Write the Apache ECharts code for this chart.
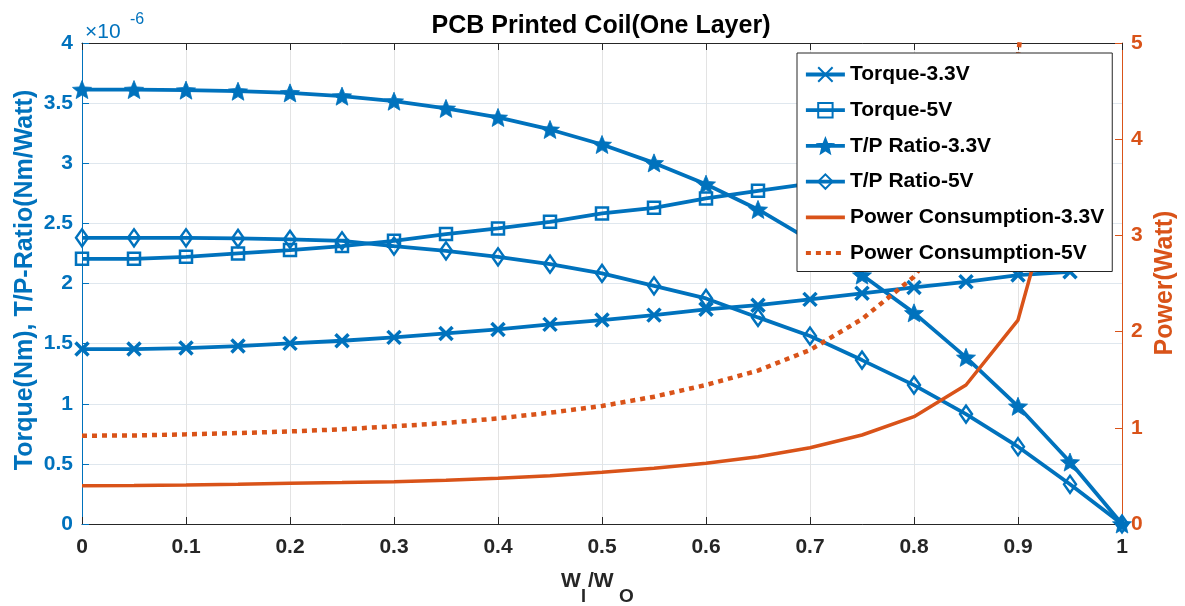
<!DOCTYPE html>
<html>
<head>
<meta charset="utf-8">
<script src="https://cdn.jsdelivr.net/npm/echarts@6/dist/echarts.min.js"></script>
<style>
html,body{margin:0;padding:0;background:#fff;}
#chart{width:1185px;height:606px;}
</style>
</head>
<body>
<div id="chart"></div>
<script>
// ---- data (x = Wi/Wo) ----
const ratioX = [0,0.05,0.1,0.15,0.2,0.25,0.3,0.35,0.4,0.45,0.5,0.55,0.6,0.65,0.7,0.75,0.8,0.85,0.9,0.95,1];
// torque in 1e-6 Nm, T/P ratio in 1e-6 Nm/W
const torque33 = [1.455,1.455,1.463,1.480,1.502,1.524,1.552,1.585,1.618,1.660,1.696,1.737,1.785,1.820,1.868,1.918,1.967,2.014,2.070,2.097,null];
const torque5  = [2.205,2.205,2.222,2.250,2.278,2.311,2.355,2.411,2.458,2.513,2.583,2.629,2.707,2.771,2.830,2.900,2.980,3.040,3.110,3.160,null];
const tpRatio33 = [3.613,3.613,3.608,3.599,3.585,3.558,3.516,3.456,3.381,3.281,3.156,3.003,2.826,2.616,2.360,2.070,1.756,1.386,0.979,0.515,0];
const tpRatio5  = [2.380,2.380,2.380,2.375,2.367,2.355,2.311,2.272,2.222,2.161,2.084,1.981,1.876,1.718,1.563,1.363,1.155,0.914,0.643,0.330,0];
// power in Watt
const power33 = [0.398,0.399,0.405,0.413,0.423,0.431,0.440,0.455,0.475,0.502,0.537,0.579,0.631,0.700,0.793,0.925,1.116,1.445,2.120,4.070,null];
const power5  = [0.918,0.920,0.932,0.945,0.962,0.985,1.015,1.050,1.098,1.157,1.227,1.323,1.445,1.595,1.809,2.130,2.570,3.320,4.870,9.300,null];
const seriesNames = ['Torque-3.3V','Torque-5V','T/P Ratio-3.3V','T/P Ratio-5V','Power Consumption-3.3V','Power Consumption-5V'];
const xTicks = [0,0.1,0.2,0.3,0.4,0.5,0.6,0.7,0.8,0.9,1];
const leftTicks = [0,0.5,1,1.5,2,2.5,3,3.5,4];
const rightTicks = [0,1,2,3,4,5];

const BLUE = '#0072BD', ORANGE = '#D95319', DARK = '#262626';
const FONT = '"Liberation Sans", Arial, sans-serif';

function pairs(ys){ return ratioX.map((x,i)=>[x, ys[i]]); }
function starPath(R, r){
  let d = '';
  for (let i=0;i<10;i++){
    const a = -Math.PI/2 + i*Math.PI/5;
    const rad = (i%2===0)?R:r;
    const x = (R + rad*Math.cos(a)).toFixed(2), y = (R + rad*Math.sin(a)).toFixed(2);
    d += (i===0?'M':'L') + x + ',' + y;
  }
  return 'path://' + d + 'Z';
}
const STAR = starPath(9.5, 4.2);
const XMARK = 'path://M0,0L13,13M13,0L0,13';

function blueSeries(name, ys, symbol, size, itemStyle){
  return {
    name, type:'line', xAxisIndex:0, yAxisIndex:0, data: pairs(ys),
    symbol, symbolSize:size, showSymbol:true, showAllSymbol:true, symbolKeepAspect:true,
    connectNulls:false,
    lineStyle:{color:BLUE, width:3.8}, itemStyle, z:3, animation:false,
    emphasis:{disabled:true}
  };
}

const chart = echarts.init(document.getElementById('chart'), null, {renderer:'canvas'});
const option = {
  animation:false,
  backgroundColor:'#fff',
  textStyle:{fontFamily:FONT},
  grid:{left:82, right:63, top:43, bottom:82, containLabel:false},
  legend:{
    orient:'vertical', left:797, top:53,
    padding:[9,8,6,7], itemWidth:39, itemHeight:18, itemGap:10.7,
    backgroundColor:'#fff', borderColor:DARK, borderWidth:1, borderRadius:0,
    lineStyle:{width:3.8},
    textStyle:{fontSize:21, fontWeight:'bold', color:'#000', fontFamily:FONT, lineHeight:25},
    data: [
      seriesNames[0], seriesNames[1], seriesNames[2], seriesNames[3],
      {name:seriesNames[4], itemStyle:{opacity:0}},
      {name:seriesNames[5], itemStyle:{opacity:0}}
    ], z:10
  },
  xAxis:[
    {type:'value', min:0, max:1, interval:0.1, position:'bottom',
     axisLine:{show:true, onZero:false, lineStyle:{color:DARK, width:1}},
     axisTick:{show:true, inside:true, length:7, lineStyle:{color:DARK}},
     axisLabel:{fontSize:21, fontWeight:'bold', color:DARK, margin:13, fontFamily:FONT,
       formatter:v=>String(+v.toFixed(1))},
     splitLine:{show:true, lineStyle:{color:'#e3e3e3', width:1}}},
    {type:'value', min:0, max:1, interval:0.1, position:'top',
     axisLine:{show:true, onZero:false, lineStyle:{color:DARK, width:1}},
     axisTick:{show:true, inside:true, length:7, lineStyle:{color:DARK}},
     axisLabel:{show:false}, splitLine:{show:false}}
  ],
  yAxis:[
    {type:'value', min:0, max:4, interval:0.5, position:'left',
     axisLine:{show:true, onZero:false, lineStyle:{color:BLUE, width:1}},
     axisTick:{show:true, inside:true, length:7, lineStyle:{color:BLUE}},
     axisLabel:{fontSize:21, fontWeight:'bold', color:BLUE, margin:9, fontFamily:FONT,
       formatter:v=>String(+v.toFixed(1))},
     splitLine:{show:true, lineStyle:{color:'#dfe7ee', width:1}}},
    {type:'value', min:0, max:5, interval:1, position:'right',
     axisLine:{show:true, onZero:false, lineStyle:{color:ORANGE, width:1}},
     axisTick:{show:true, inside:true, length:7, lineStyle:{color:ORANGE}},
     axisLabel:{fontSize:21, fontWeight:'bold', color:ORANGE, margin:9, fontFamily:FONT},
     splitLine:{show:false}}
  ],
  graphic:[
    {type:'text', style:{text:'PCB Printed Coil(One Layer)', x:601, y:26, textAlign:'center', textVerticalAlign:'middle',
      font:'bold 25px '+FONT, fill:'#000'}},
    {type:'text', style:{text:'\u00d710', x:85, y:32, textAlign:'left', textVerticalAlign:'middle', font:'21px '+FONT, fill:BLUE}},
    {type:'text', style:{text:'-6', x:130, y:20, textAlign:'left', textVerticalAlign:'middle', font:'16px '+FONT, fill:BLUE}},
    {type:'text', rotation:Math.PI/2, x:25, y:280, style:{text:'Torque(Nm), T/P-Ratio(Nm/Watt)', x:0, y:0, textAlign:'center', textVerticalAlign:'middle', font:'bold 25px '+FONT, fill:BLUE}},
    {type:'text', rotation:Math.PI/2, x:1165, y:283, style:{text:'Power(Watt)', x:0, y:0, textAlign:'center', textVerticalAlign:'middle', font:'bold 25px '+FONT, fill:ORANGE}},
    {type:'text', style:{text:'W', x:561, y:581, textAlign:'left', textVerticalAlign:'middle', font:'bold 21px '+FONT, fill:DARK}},
    {type:'text', style:{text:'I', x:581, y:597, textAlign:'left', textVerticalAlign:'middle', font:'bold 18px '+FONT, fill:DARK}},
    {type:'text', style:{text:'/W', x:588, y:581, textAlign:'left', textVerticalAlign:'middle', font:'bold 21px '+FONT, fill:DARK}},
    {type:'text', style:{text:'O', x:619, y:597, textAlign:'left', textVerticalAlign:'middle', font:'bold 19px '+FONT, fill:DARK}}
  ],
  series:[
    blueSeries(seriesNames[0], torque33, XMARK, 13, {color:BLUE, borderColor:BLUE, borderWidth:3.5}),
    blueSeries(seriesNames[1], torque5, 'rect', 12, {color:'rgba(0,0,0,0)', borderColor:BLUE, borderWidth:2.5}),
    blueSeries(seriesNames[2], tpRatio33, STAR, 19, {color:BLUE, borderColor:BLUE, borderWidth:0.8}),
    blueSeries(seriesNames[3], tpRatio5, 'diamond', [12,17], {color:'rgba(0,0,0,0)', borderColor:BLUE, borderWidth:2.5}),
    {name:seriesNames[4], type:'line', xAxisIndex:0, yAxisIndex:1, data:pairs(power33), symbol:'none', connectNulls:false,
     lineStyle:{color:ORANGE, width:3.5}, itemStyle:{color:ORANGE}, z:4, emphasis:{disabled:true}},
    {name:seriesNames[5], type:'line', xAxisIndex:0, yAxisIndex:1, data:pairs(power5), symbol:'none', connectNulls:false,
     lineStyle:{color:ORANGE, width:4.5, type:[5,5], cap:'butt'}, itemStyle:{color:ORANGE}, z:4, emphasis:{disabled:true}}
  ]
};
chart.setOption(option);
</script>
</body>
</html>
